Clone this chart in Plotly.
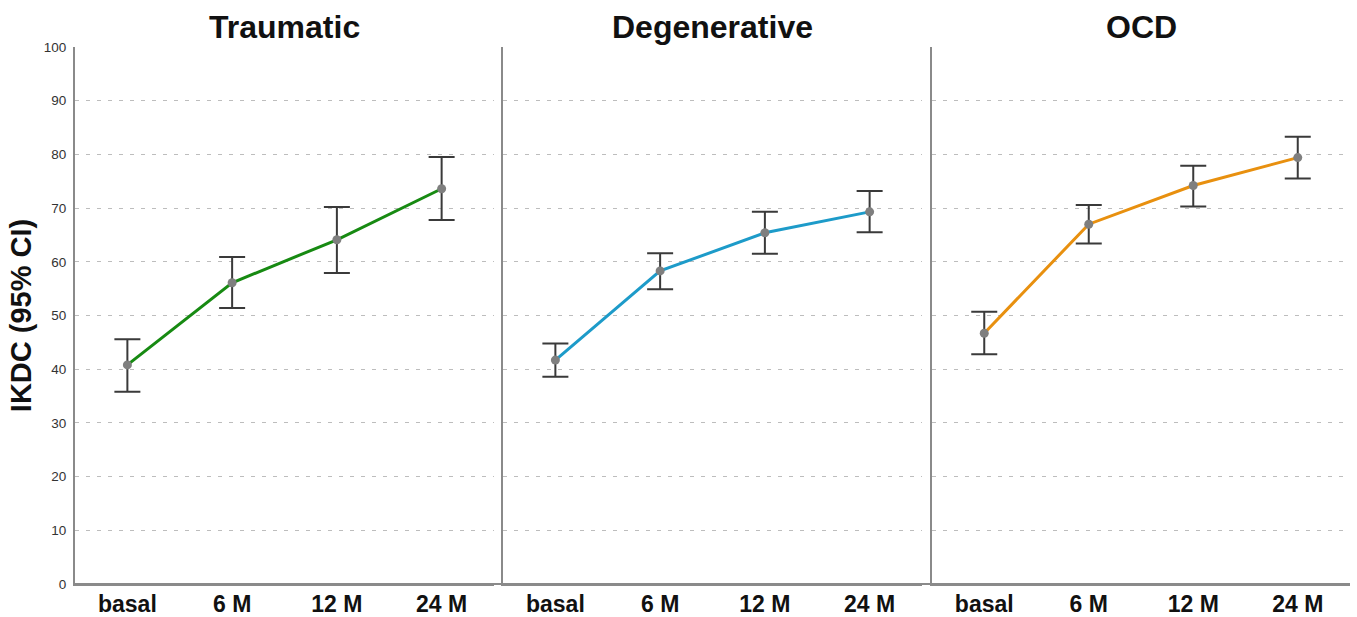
import plotly.graph_objects as go

timepoints = ["basal", "6 M", "12 M", "24 M"]
groups = ["Traumatic", "Degenerative", "OCD"]
colors = ["#178a12", "#1d9bc9", "#e8900f"]

traumatic_mean = [40.8, 56.1, 64.1, 73.6]
traumatic_upper = [45.6, 60.9, 70.2, 79.5]
traumatic_lower = [35.8, 51.4, 57.9, 67.8]

degenerative_mean = [41.7, 58.3, 65.4, 69.3]
degenerative_upper = [44.8, 61.6, 69.3, 73.2]
degenerative_lower = [38.6, 54.9, 61.5, 65.5]

ocd_mean = [46.7, 67.0, 74.2, 79.4]
ocd_upper = [50.7, 70.6, 77.9, 83.3]
ocd_lower = [42.8, 63.4, 70.3, 75.5]

means = [traumatic_mean, degenerative_mean, ocd_mean]
uppers = [traumatic_upper, degenerative_upper, ocd_upper]
lowers = [traumatic_lower, degenerative_lower, ocd_lower]

FONT = "Liberation Sans, Arial, sans-serif"
W, H = 1357, 617
ml, mr, mt, mb = 75, 7, 47, 33
pw = W - ml - mr
px = lambda p: (p - ml) / pw
domains = [[0, px(494)], [px(503), px(922)], [px(932), 1.0]]

fig = go.Figure()
for i in range(3):
    xa = "x" if i == 0 else f"x{i+1}"
    ya = "y" if i == 0 else f"y{i+1}"
    fig.add_trace(go.Scatter(
        x=timepoints, y=means[i], xaxis=xa, yaxis=ya, mode="lines+markers",
        line=dict(color=colors[i], width=3),
        marker=dict(color="#7f7f7f", size=9),
        error_y=dict(type="data", symmetric=False,
                     array=[u - m for u, m in zip(uppers[i], means[i])],
                     arrayminus=[m - l for m, l in zip(means[i], lowers[i])],
                     color="#3a3a3a", thickness=2, width=13),
        showlegend=False, cliponaxis=False))

layout = dict(
    width=W, height=H, plot_bgcolor="white", paper_bgcolor="white",
    margin=dict(l=ml, r=mr, t=mt, b=mb, autoexpand=False),
    font=dict(family=FONT, color="#222"),
    showlegend=False,
)
for i in range(3):
    xk = "xaxis" if i == 0 else f"xaxis{i+1}"
    yk = "yaxis" if i == 0 else f"yaxis{i+1}"
    layout[xk] = dict(domain=domains[i], anchor="y" if i == 0 else f"y{i+1}",
                      showgrid=False, showline=True, linecolor="#8a8a8a", linewidth=2,
                      ticks="", tickfont=dict(size=23, family=FONT, color="#111", weight="bold"),
                      ticklabelstandoff=-2, automargin=False,
                      range=[-0.5, 3.5], zeroline=False, fixedrange=True)
    layout[yk] = dict(anchor="x" if i == 0 else f"x{i+1}", range=[0, 100],
                      tickvals=list(range(0, 101, 10)), showgrid=True,
                      gridcolor="#bdbdbd", gridwidth=1, griddash="4px,7px",
                      showline=True, linecolor="#8a8a8a", linewidth=2,
                      showticklabels=(i == 0), ticks="", automargin=False,
                      tickfont=dict(size=13.5, family=FONT, color="#333"),
                      zeroline=False, fixedrange=True)
layout["yaxis"]["title"] = dict(text="IKDC (95% CI)", font=dict(size=29, family=FONT, color="#111", weight="bold"), standoff=4)
layout["yaxis"]["ticklabelstandoff"] = 4

annotations = []
for i, g in enumerate(groups):
    annotations.append(dict(text=f"<b>{g}</b>", x=(domains[i][0] + domains[i][1]) / 2, y=1.0,
                            xref="paper", yref="paper", xanchor="center", yanchor="bottom",
                            yshift=0, showarrow=False,
                            font=dict(size=32, family=FONT, color="#111")))
layout["annotations"] = annotations
layout["shapes"] = [dict(type="line", xref="paper", yref="paper", x0=0, x1=1, y0=0, y1=0,
                         line=dict(color="#8a8a8a", width=2))]

fig.update_layout(**layout)
fig.write_html("out.html", config={"displayModeBar": False},
               post_script="document.body.style.margin='0';document.body.style.overflow='hidden';")
